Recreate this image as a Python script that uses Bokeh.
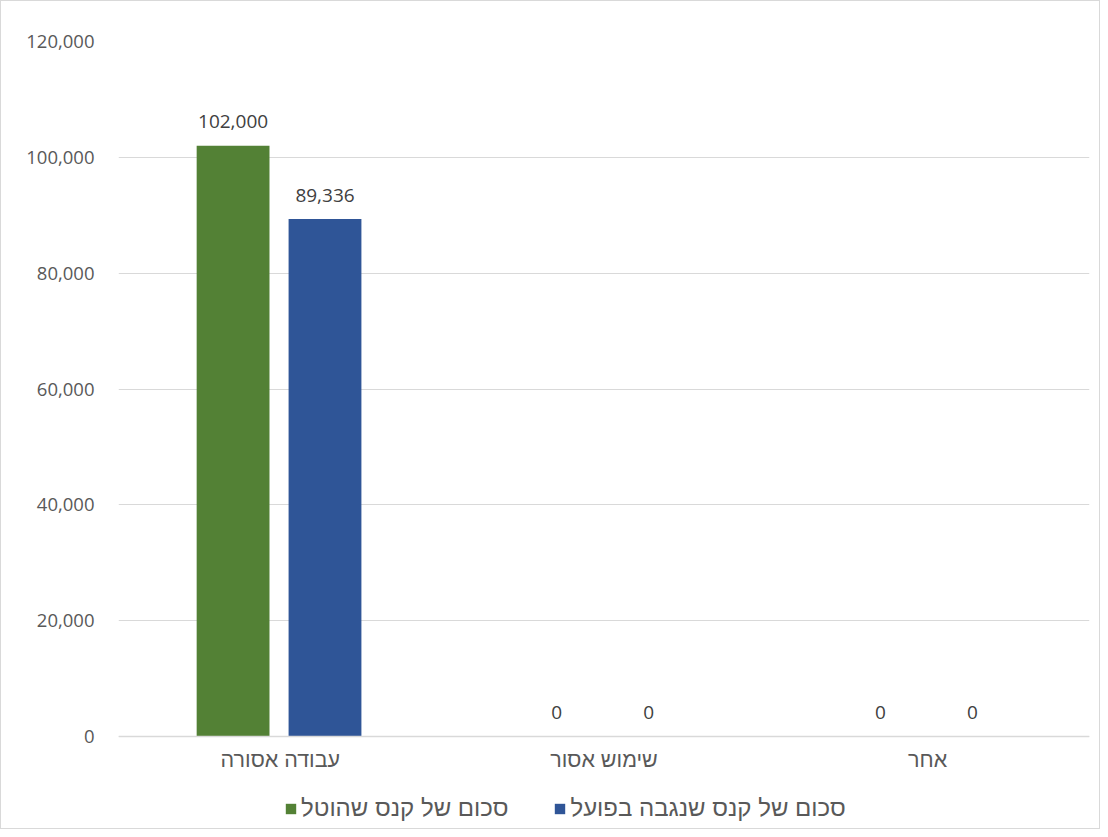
from bokeh.plotting import figure
from bokeh.models import (ColumnDataSource, Range1d, LabelSet, Legend, LegendItem,
                          NumeralTickFormatter, Span)
from bokeh.transform import dodge
from bokeh.core.properties import value
from bokeh.embed import file_html
from bokeh.resources import INLINE

categories = ["עבודה אסורה", "שימוש אסור", "אחר"]
imposed = [102000, 0, 0]
collected = [89336, 0, 0]
series_names = ["סכום של קנס שהוטל", "סכום של קנס שנגבה בפועל"]
colors = ["#538135", "#2f5597"]
y_ticks = [0, 20000, 40000, 60000, 80000, 100000, 120000]

src = ColumnDataSource(dict(
    cat=categories,
    imposed=imposed,
    collected=collected,
    imposed_txt=[f"{v:,}" for v in imposed],
    collected_txt=[f"{v:,}" for v in collected],
))

FONT = "Open Sans"
HFONT = "Liberation Sans"
GRAY = "#595959"

# layout (pixels): frame spans from top border to the bottom of the figure;
# value 0 sits at ZERO_PX so that the category labels and legend fit below it.
W, H = 1100, 829
TOP, LEFT, RIGHT = 40, 117, 12
ZERO_PX = 735
Y_MAX = 120000
y_start = -(H - ZERO_PX) / (ZERO_PX - TOP) * Y_MAX

p = figure(x_range=categories, y_range=Range1d(y_start, Y_MAX), width=W, height=H,
           output_backend="svg", toolbar_location=None, x_axis_location=None,
           min_border_left=LEFT, min_border_right=RIGHT, min_border_top=TOP,
           min_border_bottom=0)

p.outline_line_color = None
p.styles = {"border": "1px solid #d9d9d9"}

G_OFF, B_OFF = -0.146, 0.138
r1 = p.vbar(x=dodge("cat", G_OFF, range=p.x_range), top="imposed", width=0.225,
            source=src, color=colors[0], line_color=None)
r2 = p.vbar(x=dodge("cat", B_OFF, range=p.x_range), top="collected", width=0.225,
            source=src, color=colors[1], line_color=None)

for xoff, col, txt in [(G_OFF, "imposed", "imposed_txt"), (B_OFF, "collected", "collected_txt")]:
    ls = LabelSet(x=dodge("cat", xoff, range=p.x_range), y=col, text=txt, source=src,
                  text_align="center", text_baseline="alphabetic", y_offset=17.5,
                  text_font=value(FONT), text_font_size="19px", text_color="#404040")
    p.add_layout(ls)

# category axis: baseline line at 0 and category labels beneath it
p.add_layout(Span(location=0, dimension="width", line_color="#d9d9d9", line_width=1.5))
cat_labels = LabelSet(x="cat", y=0, text="cat", source=src, text_align="center",
                      text_baseline="alphabetic", y_offset=-30,
                      text_font=value(HFONT), text_font_size="21.5px", text_color=GRAY)
p.add_layout(cat_labels)

# value axis
p.yaxis.formatter = NumeralTickFormatter(format="0,0")
p.yaxis.ticker = y_ticks
p.yaxis.axis_line_color = None
p.yaxis.major_tick_line_color = None
p.yaxis.minor_tick_line_color = None
p.yaxis.major_label_standoff = 18
p.yaxis.major_label_text_font = FONT
p.yaxis.major_label_text_font_size = "18.5px"
p.yaxis.major_label_text_color = GRAY

p.xgrid.grid_line_color = None
p.ygrid.ticker = y_ticks
p.ygrid.grid_line_color = "#d9d9d9"
p.ygrid.grid_line_width = 1

legend = Legend(items=[LegendItem(label=series_names[0], renderers=[r1]),
                       LegendItem(label=series_names[1], renderers=[r2])],
                orientation="horizontal", location=(166, 8),
                glyph_width=13, glyph_height=13, label_standoff=4, spacing=45,
                padding=0, margin=0, border_line_color=None, background_fill_alpha=0,
                label_text_font=HFONT, label_text_font_size="24px", label_text_color=GRAY)
p.add_layout(legend, "center")

open("out.html", "w").write(file_html(p, INLINE))
